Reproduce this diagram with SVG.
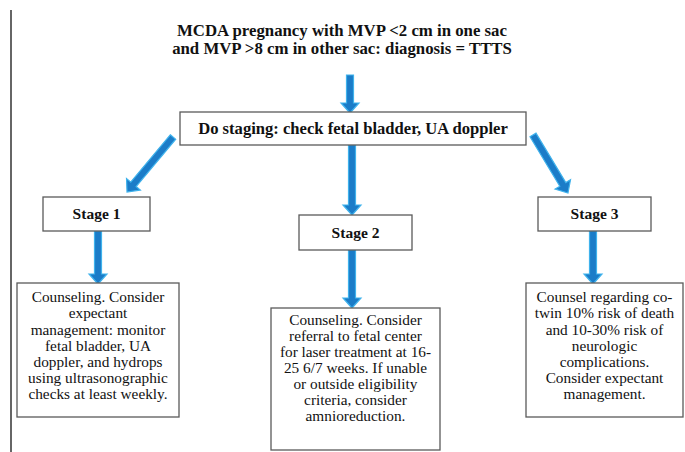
<svg xmlns="http://www.w3.org/2000/svg" width="685" height="452" viewBox="0 0 685 452">
<style>
.box{fill:#fff;stroke:#5a5a5a;stroke-width:1.3}
text{font-family:'Liberation Serif','DejaVu Serif',serif;fill:#111;text-anchor:middle}
.b{font-weight:bold}
.title{font-size:16.8px}
.stg{font-size:16.6px}
.lbl{font-size:15.5px}
.body{font-size:15.3px}
.arr{fill:#1b7cc8;stroke:#3fb2ec;stroke-width:1.2;stroke-linejoin:miter}
</style>
<rect width="685" height="452" fill="#fff"/>
<line x1="11" y1="10" x2="11" y2="452" stroke="#333" stroke-width="1.5"/>
<g id="title">
<text class="b title" x="342" y="36">MCDA pregnancy with MVP &lt;2 cm in one sac</text>
<text class="b title" x="342" y="54">and MVP &gt;8 cm in other sac: diagnosis = TTTS</text>
</g>
<g id="connectors">
<path class="arr" transform="translate(350,75)" d="M-3.5,0 L3.5,0 L3.5,28 L9,28 L0,38 L-9,28 L-3.5,28 Z"/>
<path class="arr" transform="translate(352,145)" d="M-3.5,0 L3.5,0 L3.5,60 L9,60 L0,70 L-9,60 L-3.5,60 Z"/>
<path class="arr" transform="translate(173,137) rotate(39.9)" d="M-3.5,0 L3.5,0 L3.5,61.7 L9,61.7 L0,71.7 L-9,61.7 L-3.5,61.7 Z"/>
<path class="arr" transform="translate(533,135) rotate(-31.1)" d="M-3.5,0 L3.5,0 L3.5,57.7 L9,57.7 L0,67.7 L-9,57.7 L-3.5,57.7 Z"/>
<path class="arr" transform="translate(98,231)" d="M-3.5,0 L3.5,0 L3.5,43 L9,43 L0,53 L-9,43 L-3.5,43 Z"/>
<path class="arr" transform="translate(352,250)" d="M-3.5,0 L3.5,0 L3.5,48 L9,48 L0,58 L-9,48 L-3.5,48 Z"/>
<path class="arr" transform="translate(593,231)" d="M-3.5,0 L3.5,0 L3.5,43 L9,43 L0,53 L-9,43 L-3.5,43 Z"/>
</g>
<g id="staging">
<rect class="box" x="180" y="112" width="346" height="33"/>
<text class="b stg" x="353" y="134">Do staging: check fetal bladder, UA doppler</text>
</g>
<g id="stage1">
<rect class="box" x="43" y="197" width="107" height="34"/>
<text class="b lbl" x="96.5" y="219">Stage 1</text>
</g>
<g id="stage2">
<rect class="box" x="299" y="215" width="113" height="35"/>
<text class="b lbl" x="355.5" y="238">Stage 2</text>
</g>
<g id="stage3">
<rect class="box" x="538" y="197" width="113" height="34"/>
<text class="b lbl" x="594.5" y="219">Stage 3</text>
</g>
<g id="stage1-text">
<rect class="box" x="17" y="283" width="162" height="134"/>
<text class="body" x="98" y="302">Counseling. Consider</text>
<text class="body" x="98" y="318">expectant</text>
<text class="body" x="98" y="334.5">management: monitor</text>
<text class="body" x="98" y="350.5">fetal bladder, UA</text>
<text class="body" x="98" y="367">doppler, and hydrops</text>
<text class="body" x="98" y="383">using ultrasonographic</text>
<text class="body" x="98" y="399">checks at least weekly.</text>
</g>
<g id="stage2-text">
<rect class="box" x="271" y="308" width="169" height="142"/>
<text class="body" x="355.5" y="325">Counseling. Consider</text>
<text class="body" x="355.5" y="341">referral to fetal center</text>
<text class="body" x="355.5" y="357">for laser treatment at 16-</text>
<text class="body" x="355.5" y="373">25 6/7 weeks. If unable</text>
<text class="body" x="355.5" y="389">or outside eligibility</text>
<text class="body" x="355.5" y="405">criteria, consider</text>
<text class="body" x="355.5" y="421">amnioreduction.</text>
</g>
<g id="stage3-text">
<rect class="box" x="526" y="283" width="157" height="134"/>
<text class="body" x="604.5" y="302">Counsel regarding co-</text>
<text class="body" x="604.5" y="318">twin 10% risk of death</text>
<text class="body" x="604.5" y="334.5">and 10-30% risk of</text>
<text class="body" x="604.5" y="350.5">neurologic</text>
<text class="body" x="604.5" y="367">complications.</text>
<text class="body" x="604.5" y="383">Consider expectant</text>
<text class="body" x="604.5" y="399">management.</text>
</g>
</svg>
